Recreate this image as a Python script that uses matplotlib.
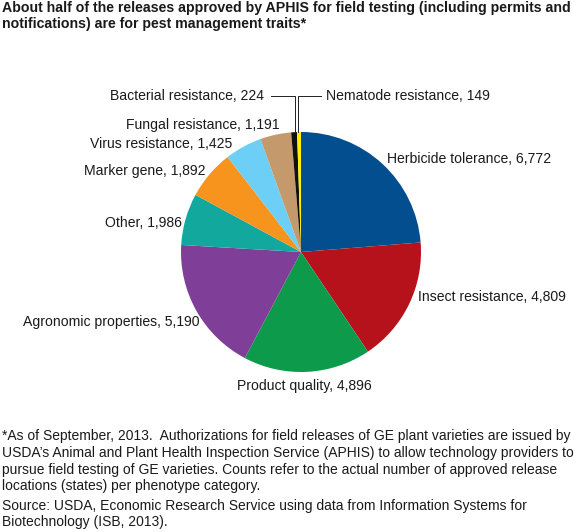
import matplotlib
matplotlib.use("Agg")
import matplotlib.pyplot as plt

plt.rcParams['font.family'] = ['Liberation Sans', 'DejaVu Sans']

categories = ["Herbicide tolerance", "Insect resistance", "Product quality",
              "Agronomic properties", "Other", "Marker gene", "Virus resistance",
              "Fungal resistance", "Bacterial resistance", "Nematode resistance"]
counts = [6772, 4809, 4896, 5190, 1986, 1892, 1425, 1191, 224, 149]
colors = ["#034e8e", "#b5121b", "#0d9a4a", "#7f3f98", "#12a89d",
          "#f7941d", "#6dcff6", "#c49a6c", "#111111", "#fff200"]
title = ["About half of the releases approved by APHIS for field testing (including permits and",
         "notifications) are for pest management traits*"]
footnote = ["*As of September, 2013.  Authorizations for field releases of GE plant varieties are issued by",
            "USDA\u2019s Animal and Plant Health Inspection Service (APHIS) to allow technology providers to",
            "pursue field testing of GE varieties. Counts refer to the actual number of approved release",
            "locations (states) per phenotype category."]
source = ["Source: USDA, Economic Research Service using data from Information Systems for",
          "Biotechnology (ISB, 2013)."]

W, H = 580, 532
fig = plt.figure(figsize=(W/100, H/100), dpi=100)
R = 120
cx, cy = 301, 252
ax = fig.add_axes([(cx-R)/W, 1-(cy+R)/H, 2*R/W, 2*R/H])
ax.pie(counts, colors=colors, startangle=90, counterclock=False, radius=1,
       wedgeprops=dict(linewidth=0))
ax.set_xlim(-1, 1); ax.set_ylim(-1, 1)

fs = 10.1
def T(x, y, s, **k):
    k.setdefault('fontsize', fs)
    k.setdefault('color', '#1a1a1a')
    fig.text(x/W, 1-y/H, s, va='center', ha='left', **k)

label_pos = [(387, 159), (418, 297), (237, 386), (23, 322), (105, 223),
             (84, 171), (90, 144), (126, 125), (110, 96), (326, 96)]
for (x, y), c, v in zip(label_pos, categories, counts):
    T(x, y, f"{c}, {v:,}")

fig.add_artist(plt.Line2D([271/W, 295/W, 295/W], [1-96/H, 1-96/H, 1-132/H], color='#222222', lw=0.7))
fig.add_artist(plt.Line2D([321/W, 298/W, 298/W], [1-96/H, 1-96/H, 1-132/H], color='#222222', lw=0.7))

for y, s in zip([8, 24], title):
    T(2, y, s, fontsize=10.2, fontweight='bold')
for y, s in zip([436, 453, 470, 486], footnote):
    T(2, y, s, fontsize=9.97)
for y, s in zip([506, 522], source):
    T(2, y, s, fontsize=9.97)
fig.savefig("out.png", dpi=100)
